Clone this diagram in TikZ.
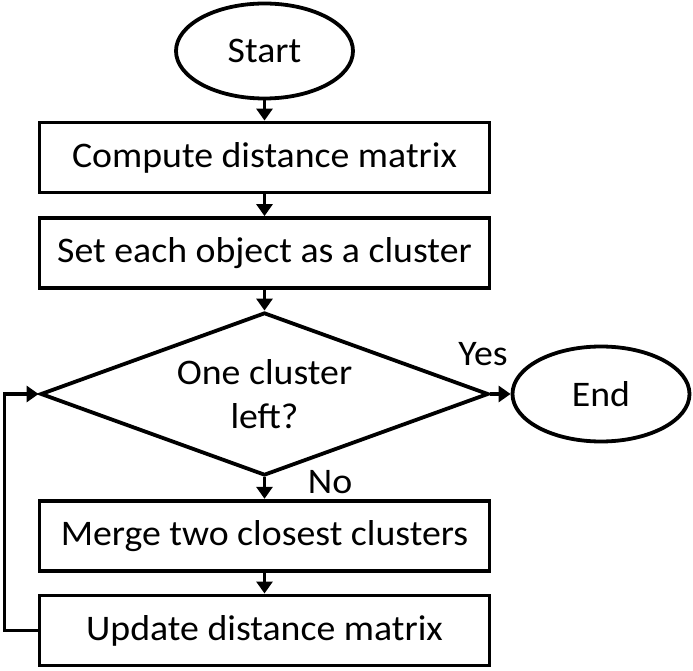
\documentclass[tikz,border=0pt]{standalone}
\usepackage{fontspec}
\setmainfont{Carlito}[FakeStretch=1.05]
\usetikzlibrary{shapes.geometric,arrows.meta}
\begin{document}
\begin{tikzpicture}[x=1pt,y=1pt,
  every node/.style={font=\fontsize{36}{44}\selectfont, line width=3.8pt},
  procbox/.style={draw, rectangle, minimum width=450pt, minimum height=70pt, inner sep=0pt},
  term/.style={draw, ellipse, minimum width=177pt, minimum height=95pt, inner sep=0pt},
  decision/.style={draw, diamond, shape aspect=2.75, minimum width=448pt, minimum height=163pt, inner sep=0pt, align=center},
  arr/.style={line width=3.6pt, -{Triangle[length=12pt,width=16pt]}},
  lbl/.style={inner sep=0pt}
]
\useasboundingbox (0,0) rectangle (693,670);
\node[term] (start) at (264.5,619) {Start};
\node[procbox] (b1) at (264.5,512.5) {Compute distance matrix};
\node[procbox] (b2) at (264.5,417) {Set each object as a cluster};
\node[decision] (dia) at (264.5,276) {One cluster\\left?};
\node[term] (end) at (601,276) {End};
\node[procbox] (b3) at (264.5,134.3) {Merge two closest clusters};
\node[procbox] (b4) at (264.5,39.6) {Update distance matrix};
\node[lbl, anchor=base] (yes) at (483,305) {Yes};
\node[lbl, anchor=base] (no) at (330,177) {No};
\coordinate (loop) at (4.5,0);
\draw[arr] (start) -- (b1);
\draw[arr] (b1) -- (b2);
\draw[arr] (b2) -- (dia);
\draw[arr] (dia.east) -- (end.west);
\draw[arr] (dia.south) -- (b3.north);
\draw[arr] (b3) -- (b4);
\draw[arr] (b4.west) -- (b4.west -| loop) |- (dia.west);
\end{tikzpicture}
\end{document}
